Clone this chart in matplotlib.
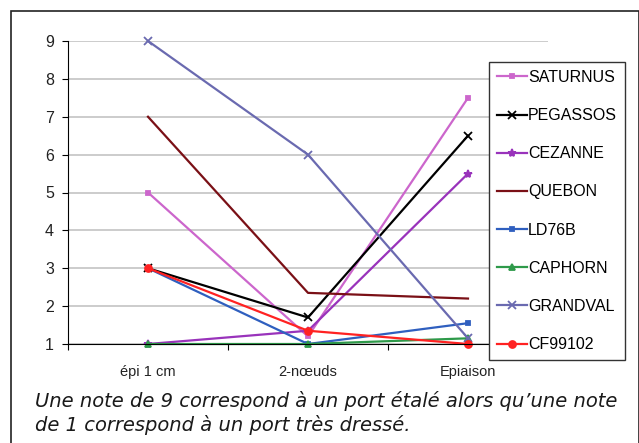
import matplotlib.pyplot as plt
from matplotlib.patches import Rectangle

# stages on the x axis
stades = ['épi 1 cm', '2-nœuds', 'Epiaison']

# port notes per variety (1 = very upright, 9 = spread)
saturnus = [5, 1.2, 7.5]
pegassos = [3, 1.7, 6.5]
cezanne = [1, 1.35, 5.5]
quebon = [7, 2.35, 2.2]
ld76b = [3, 1.0, 1.55]
caphorn = [1, 1.0, 1.15]
grandval = [9, 6, 1.15]
cf99102 = [3, 1.35, 1.0]

W, H = 639, 443
fig = plt.figure(figsize=(W / 100, H / 100), dpi=100)
plt.rcParams['font.family'] = ['Liberation Sans', 'DejaVu Sans']

# outer frame around chart + caption
fig.patches.append(Rectangle((11 / W, -0.01), 627.5 / W, (H - 11) / H + 0.01,
                             transform=fig.transFigure, fill=False,
                             edgecolor='#222222', linewidth=1.2))

ax = fig.add_axes([68 / W, (H - 344) / H, 480 / W, 303 / H])

x = range(len(stades))
series = [
    ('SATURNUS', saturnus, '#cc66cc', 's', 3.5),
    ('PEGASSOS', pegassos, '#000000', 'x', 6),
    ('CEZANNE', cezanne, '#9933bb', '*', 6),
    ('QUEBON', quebon, '#7a1016', None, 0),
    ('LD76B', ld76b, '#2f5fbf', 's', 3.5),
    ('CAPHORN', caphorn, '#2e9a4a', '^', 5),
    ('GRANDVAL', grandval, '#6a6ab0', 'x', 6),
    ('CF99102', cf99102, '#ff2222', 'o', 5),
]
for name, vals, col, mk, ms in series:
    ax.plot(x, vals, color=col, marker=mk, markersize=ms, linewidth=1.6,
            markeredgewidth=1.3, label=name, clip_on=False)

ax.set_xlim(-0.5, 2.5)
ax.set_ylim(1, 9)
ax.set_yticks(range(1, 10))
ax.yaxis.grid(True, color='#c4c4c4', linewidth=1.2)
ax.set_axisbelow(True)

# category labels centred, tick marks on boundaries
ax.set_xticks([-0.5, 0.5, 1.5, 2.5])
ax.set_xticklabels([])
ax.set_xticks(list(x), minor=True)
ax.set_xticklabels(stades, minor=True)
ax.tick_params(axis='x', which='minor', length=0, pad=15, labelsize=10.5, labelcolor='#222222')
ax.tick_params(axis='x', which='major', length=4, direction='out')
ax.tick_params(axis='y', length=4, labelsize=11.5, pad=6, labelcolor='#222222')

for s in ['top', 'right']:
    ax.spines[s].set_visible(False)
ax.spines['left'].set_color('black')
ax.spines['bottom'].set_color('black')

leg = ax.legend(loc='upper left', bbox_to_anchor=(489 / W, 1 - 62 / H),
                bbox_transform=fig.transFigure, fontsize=11.5,
                labelspacing=1.45, handlelength=1.9, handletextpad=0.05,
                borderpad=0.5, fancybox=False, framealpha=1,
                edgecolor='#333333', borderaxespad=0)
leg.get_frame().set_linewidth(1.0)

cap = dict(fontsize=14, style='italic', family=['DejaVu Sans'],
           va='baseline', color='#1a1a1a')
fig.text(35 / W, 1 - 407 / H,
         'Une note de 9 correspond à un port étalé alors qu’une note', **cap)
fig.text(35 / W, 1 - 431 / H, 'de 1 correspond à un port très dressé.', **cap)

fig.savefig('out.png', dpi=100)
